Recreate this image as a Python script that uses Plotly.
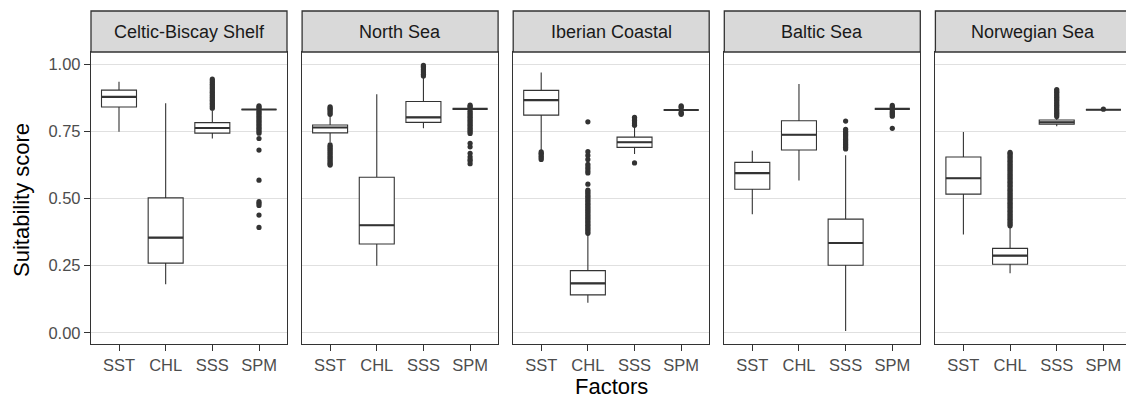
import plotly.graph_objects as go

# ---------------- data ----------------
REGIONS = ["Celtic-Biscay Shelf", "North Sea", "Iberian Coastal", "Baltic Sea", "Norwegian Sea"]
FACTORS = ["SST", "CHL", "SSS", "SPM"]

# per region, values for [SST, CHL, SSS, SPM]
LOWER = [
    [0.748, 0.180, 0.723, 0.831],
    [0.709, 0.249, 0.761, 0.833],
    [0.674, 0.112, 0.665, 0.829],
    [0.441, 0.567, 0.006, 0.833],
    [0.366, 0.221, 0.769, 0.830],
]
Q1 = [
    [0.840, 0.259, 0.743, 0.831],
    [0.744, 0.330, 0.783, 0.833],
    [0.810, 0.141, 0.690, 0.829],
    [0.534, 0.680, 0.251, 0.833],
    [0.516, 0.255, 0.776, 0.830],
]
MEDIAN = [
    [0.878, 0.354, 0.762, 0.831],
    [0.764, 0.400, 0.802, 0.833],
    [0.866, 0.184, 0.709, 0.829],
    [0.594, 0.737, 0.334, 0.833],
    [0.575, 0.287, 0.783, 0.830],
]
Q3 = [
    [0.903, 0.502, 0.782, 0.831],
    [0.773, 0.579, 0.861, 0.833],
    [0.902, 0.231, 0.728, 0.829],
    [0.634, 0.789, 0.423, 0.833],
    [0.654, 0.314, 0.792, 0.830],
]
UPPER = [
    [0.934, 0.854, 0.828, 0.831],
    [0.812, 0.888, 0.953, 0.833],
    [0.969, 0.366, 0.765, 0.829],
    [0.677, 0.926, 0.661, 0.833],
    [0.747, 0.392, 0.800, 0.830],
]

OUT_CBS = {
    "SSS": [0.836, 0.842, 0.848, 0.853, 0.859, 0.865, 0.871, 0.877, 0.883, 0.889, 0.895,
            0.901, 0.907, 0.913, 0.919, 0.925, 0.931, 0.937, 0.944],
    "SPM": [0.845, 0.840, 0.836, 0.826, 0.821, 0.815, 0.809, 0.803, 0.797, 0.791, 0.785,
            0.779, 0.773, 0.767, 0.761, 0.755, 0.749, 0.743, 0.723, 0.680, 0.568, 0.488,
            0.482, 0.474, 0.438, 0.392],
}
OUT_NS = {
    "SST": [0.813, 0.819, 0.825, 0.831, 0.836, 0.841, 0.699, 0.693, 0.687, 0.681, 0.675,
            0.669, 0.663, 0.657, 0.651, 0.645, 0.639, 0.633, 0.628, 0.624],
    "SSS": [0.956, 0.962, 0.968, 0.974, 0.980, 0.986, 0.991, 0.995],
    "SPM": [0.847, 0.842, 0.837, 0.826, 0.820, 0.814, 0.808, 0.802, 0.796, 0.790, 0.784,
            0.778, 0.772, 0.766, 0.760, 0.754, 0.748, 0.742, 0.705, 0.692, 0.668, 0.655,
            0.645, 0.639, 0.629],
}
OUT_IC = {
    "SST": [0.673, 0.668, 0.663, 0.657, 0.651, 0.645],
    "CHL": [0.370, 0.376, 0.382, 0.388, 0.394, 0.400, 0.406, 0.412, 0.418, 0.424, 0.430,
            0.436, 0.442, 0.448, 0.454, 0.460, 0.466, 0.472, 0.478, 0.484, 0.490, 0.496,
            0.502, 0.508, 0.514, 0.520, 0.526, 0.531, 0.553, 0.595, 0.602, 0.610, 0.618,
            0.627, 0.645, 0.660, 0.674, 0.785],
    "SSS": [0.772, 0.778, 0.784, 0.790, 0.796, 0.802, 0.632],
    "SPM": [0.845, 0.841, 0.837, 0.821, 0.817, 0.813],
}
OUT_BS = {
    "SSS": [0.684, 0.690, 0.696, 0.702, 0.708, 0.714, 0.720, 0.726, 0.732, 0.738, 0.744,
            0.750, 0.757, 0.788],
    "SPM": [0.846, 0.841, 0.837, 0.826, 0.821, 0.816, 0.811, 0.806, 0.761],
}
OUT_NWS = {
    "CHL": [0.398, 0.404, 0.410, 0.416, 0.422, 0.428, 0.434, 0.440, 0.446, 0.452, 0.458,
            0.464, 0.470, 0.476, 0.482, 0.488, 0.494, 0.500, 0.506, 0.512, 0.518, 0.524,
            0.530, 0.536, 0.542, 0.548, 0.554, 0.560, 0.566, 0.572, 0.578, 0.584, 0.590,
            0.596, 0.602, 0.608, 0.614, 0.620, 0.626, 0.632, 0.638, 0.644, 0.650, 0.656,
            0.662, 0.667, 0.671],
    "SSS": [0.805, 0.811, 0.817, 0.823, 0.829, 0.835, 0.841, 0.847, 0.853, 0.859, 0.865,
            0.871, 0.877, 0.883, 0.889, 0.895, 0.900, 0.905],
    "SPM": [0.832],
}
OUTLIERS = [OUT_CBS, OUT_NS, OUT_IC, OUT_BS, OUT_NWS]

# ---------------- style / geometry ----------------
W, H = 1126, 401
ML, MR, MT, MB = 91, 0, 52, 57
PW = W - ML - MR
PH = H - MT - MB
PANEL_W = 196.0
PITCH = 211.1
UNIT = PANEL_W / 4.2
DARK = "#333333"
FONT = "Liberation Sans, Arial, sans-serif"
BOXW = 0.75

fig = go.Figure()
shapes = []
annotations = []

for i, region in enumerate(REGIONS):
    left = ML + i * PITCH
    right = min(left + PANEL_W, W)
    d0 = (left - ML) / PW
    d1 = (right - ML) / PW
    xr_max = 0.4 + (right - left) / UNIT
    sfx = "" if i == 0 else str(i + 1)
    xa = "x" + sfx
    ya = "y" + sfx
    xpos = list(range(1, len(FACTORS) + 1))

    fig.add_trace(go.Box(
        x=xpos, q1=Q1[i], median=MEDIAN[i], q3=Q3[i],
        lowerfence=LOWER[i], upperfence=UPPER[i],
        width=BOXW, whiskerwidth=0, boxpoints=False,
        fillcolor="white", line=dict(color=DARK, width=1.1),
        xaxis=xa, yaxis=ya, showlegend=False, hoverinfo="skip",
    ))
    # thicker median line (ggplot fatten)
    mx, my = [], []
    for k, m in enumerate(MEDIAN[i]):
        mx += [xpos[k] - BOXW / 2, xpos[k] + BOXW / 2, None]
        my += [m, m, None]
    fig.add_trace(go.Scatter(x=mx, y=my, mode="lines",
                             line=dict(color=DARK, width=2.2),
                             xaxis=xa, yaxis=ya, showlegend=False, hoverinfo="skip"))
    # outliers
    ox, oy = [], []
    for k, f in enumerate(FACTORS):
        vals = OUTLIERS[i].get(f, [])
        ox += [xpos[k]] * len(vals)
        oy += vals
    fig.add_trace(go.Scatter(x=ox, y=oy, mode="markers",
                             marker=dict(color=DARK, size=5.2, line=dict(width=0)),
                             xaxis=xa, yaxis=ya, showlegend=False, hoverinfo="skip"))

    last = (i == len(REGIONS) - 1)
    fig.layout["xaxis" + sfx] = dict(
        domain=[d0, d1], range=[0.4, xr_max], anchor=ya,
        tickmode="array", tickvals=xpos, ticktext=FACTORS,
        ticks="outside", ticklen=6, tickwidth=1.3, tickcolor=DARK,
        tickfont=dict(family=FONT, size=16.5, color="#4d4d4d"),
        showgrid=False, zeroline=False,
        showline=True, linecolor=DARK, linewidth=1.3, mirror=True,
    )
    fig.layout["yaxis" + sfx] = dict(
        domain=[0, 1], range=[-0.042, 1.045], anchor=xa,
        tickmode="array", tickvals=[0, 0.25, 0.5, 0.75, 1.0],
        ticktext=["0.00", "0.25", "0.50", "0.75", "1.00"],
        showticklabels=(i == 0),
        ticks="outside" if i == 0 else "", ticklen=6, tickwidth=1.3, tickcolor=DARK,
        tickfont=dict(family=FONT, size=16.5, color="#4d4d4d"),
        showgrid=True, gridcolor="#e0e0e0", gridwidth=1, zeroline=False,
        showline=True, linecolor=DARK, linewidth=1.3, mirror=(not last),
    )
    # strip
    sx1 = d1 if not last else 1.02
    shapes.append(dict(type="rect", xref="paper", yref="paper",
                       x0=d0, x1=sx1, y0=1.0, y1=1.0 + 41.0 / PH,
                       fillcolor="#d9d9d9", line=dict(color=DARK, width=1.3), layer="above"))
    annotations.append(dict(text=region, xref="paper", yref="paper",
                            x=(d0 + (ML + i * PITCH + PANEL_W - ML) / PW) / 2,
                            y=1.0 + 20.5 / PH, xanchor="center", yanchor="middle",
                            showarrow=False,
                            font=dict(family=FONT, size=18, color="#1a1a1a")))

annotations.append(dict(text="Suitability score", xref="paper", yref="paper",
                        x=(21 - ML) / PW, y=(MT + PH - 200) / PH + 0.0,
                        textangle=-90, xanchor="center", yanchor="middle", showarrow=False,
                        font=dict(family=FONT, size=22, color="black")))
annotations.append(dict(text="Factors", xref="paper", yref="paper",
                        x=(611 - ML) / PW, y=-(386 - MT - PH) / PH,
                        xanchor="center", yanchor="middle", showarrow=False,
                        font=dict(family=FONT, size=22, color="black")))

fig.update_layout(
    width=W, height=H,
    margin=dict(l=ML, r=MR, t=MT, b=MB, pad=0),
    paper_bgcolor="white", plot_bgcolor="white",
    shapes=shapes, annotations=annotations,
    showlegend=False,
)
fig.write_html("out.html", config={"displayModeBar": False},
               post_script="document.body.style.margin='0';document.body.style.overflow='hidden';")
